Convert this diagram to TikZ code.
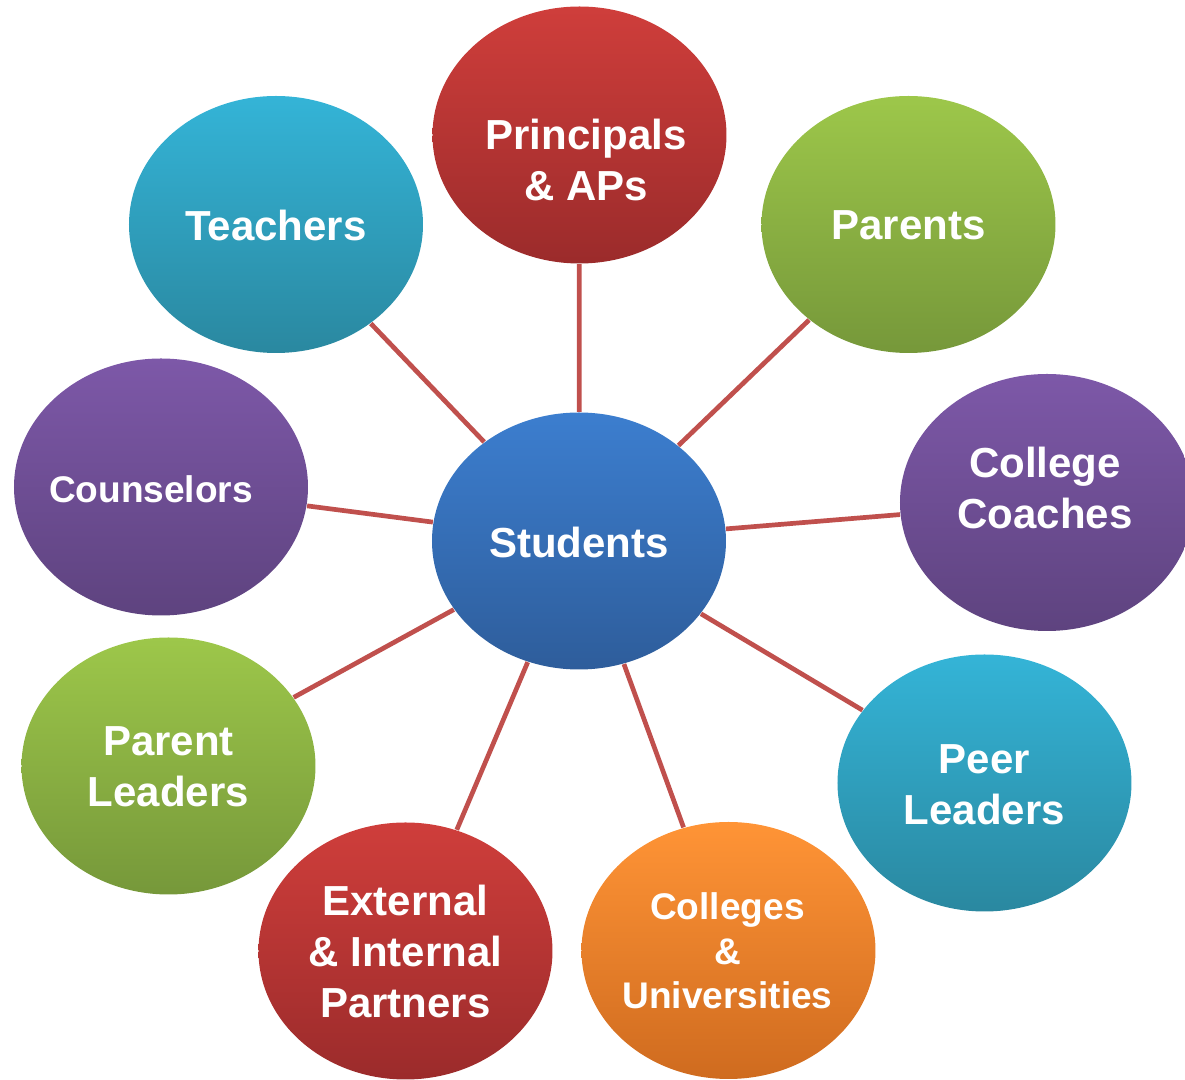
\documentclass[tikz,border=0pt]{standalone}
\usepackage{fontspec}
\setmainfont{Liberation Sans}
\usetikzlibrary{shapes.geometric}

% bubble fill colours (top / bottom of each gradient)
\definecolor{redT}{HTML}{CF3E3B}
\definecolor{redB}{HTML}{9B2B2B}
\definecolor{cyanT}{HTML}{34B4D7}
\definecolor{cyanB}{HTML}{2A88A0}
\definecolor{greenT}{HTML}{9DC74A}
\definecolor{greenB}{HTML}{76983A}
\definecolor{purpT}{HTML}{7D58A8}
\definecolor{purpB}{HTML}{5E437F}
\definecolor{blueT}{HTML}{3C7ECF}
\definecolor{blueB}{HTML}{2E5D9B}
\definecolor{orgT}{HTML}{FF9436}
\definecolor{orgB}{HTML}{CF6B1F}
\definecolor{linkc}{HTML}{C0504D}

\tikzset{
  bubble/.style={ellipse, draw=none, minimum width=2.94cm, minimum height=2.57cm, inner sep=0pt},
  redb/.style={bubble, top color=redT, bottom color=redB},
  cyanb/.style={bubble, top color=cyanT, bottom color=cyanB},
  greenb/.style={bubble, top color=greenT, bottom color=greenB},
  purpb/.style={bubble, top color=purpT, bottom color=purpB},
  blueb/.style={bubble, top color=blueT, bottom color=blueB},
  orgb/.style={bubble, top color=orgT, bottom color=orgB},
  bigtxt/.style={text=white, align=center, inner sep=0pt, font=\bfseries\fontsize{11.95}{14.6}\selectfont},
  smalltxt/.style={text=white, align=center, inner sep=0pt, font=\bfseries\fontsize{10.55}{12.65}\selectfont},
  link/.style={draw=linkc, line width=0.047cm}
}

\begin{document}
\begin{tikzpicture}
\useasboundingbox (0,0) rectangle (11.85,-10.80);

% ellipses
\node[blueb]  (stu) at (5.79,-5.41) {};
\node[redb]   (pri) at (5.795,-1.35) {};
\node[cyanb]  (tea) at (2.76,-2.245) {};
\node[greenb] (par) at (9.085,-2.245) {};
\node[purpb]  (cou) at (1.61,-4.87) {};
\node[purpb]  (coa) at (10.47,-5.025) {};
\node[greenb] (pld) at (1.685,-7.66) {};
\node[cyanb]  (pee) at (9.845,-7.83) {};
\node[redb]   (ext) at (4.055,-9.51) {};
\node[orgb]   (col) at (7.285,-9.505) {};

% connectors from the hub
\foreach \n in {pri,tea,par,cou,coa,pld,pee,ext,col}
  \draw[link] (stu) -- (\n);

% labels
\node[bigtxt]   (stuT) at (5.79,-5.42) {Students};
\node[bigtxt]   (priT) at (5.86,-1.60) {Principals\\\& APs};
\node[bigtxt]   (teaT) at (2.76,-2.255) {Teachers};
\node[bigtxt]   (parT) at (9.085,-2.255) {Parents};
\node[smalltxt] (couT) at (1.51,-4.89) {Counselors};
\node[bigtxt]   (coaT) at (10.45,-4.88) {College\\Coaches};
\node[bigtxt]   (pldT) at (1.685,-7.67) {Parent\\Leaders};
\node[bigtxt]   (peeT) at (9.845,-7.85) {Peer\\Leaders};
\node[bigtxt]   (extT) at (4.055,-9.515) {External\\\& Internal\\Partners};
\node[smalltxt] (colT) at (7.275,-9.51) {Colleges\\\&\\Universities};
\end{tikzpicture}
\end{document}
